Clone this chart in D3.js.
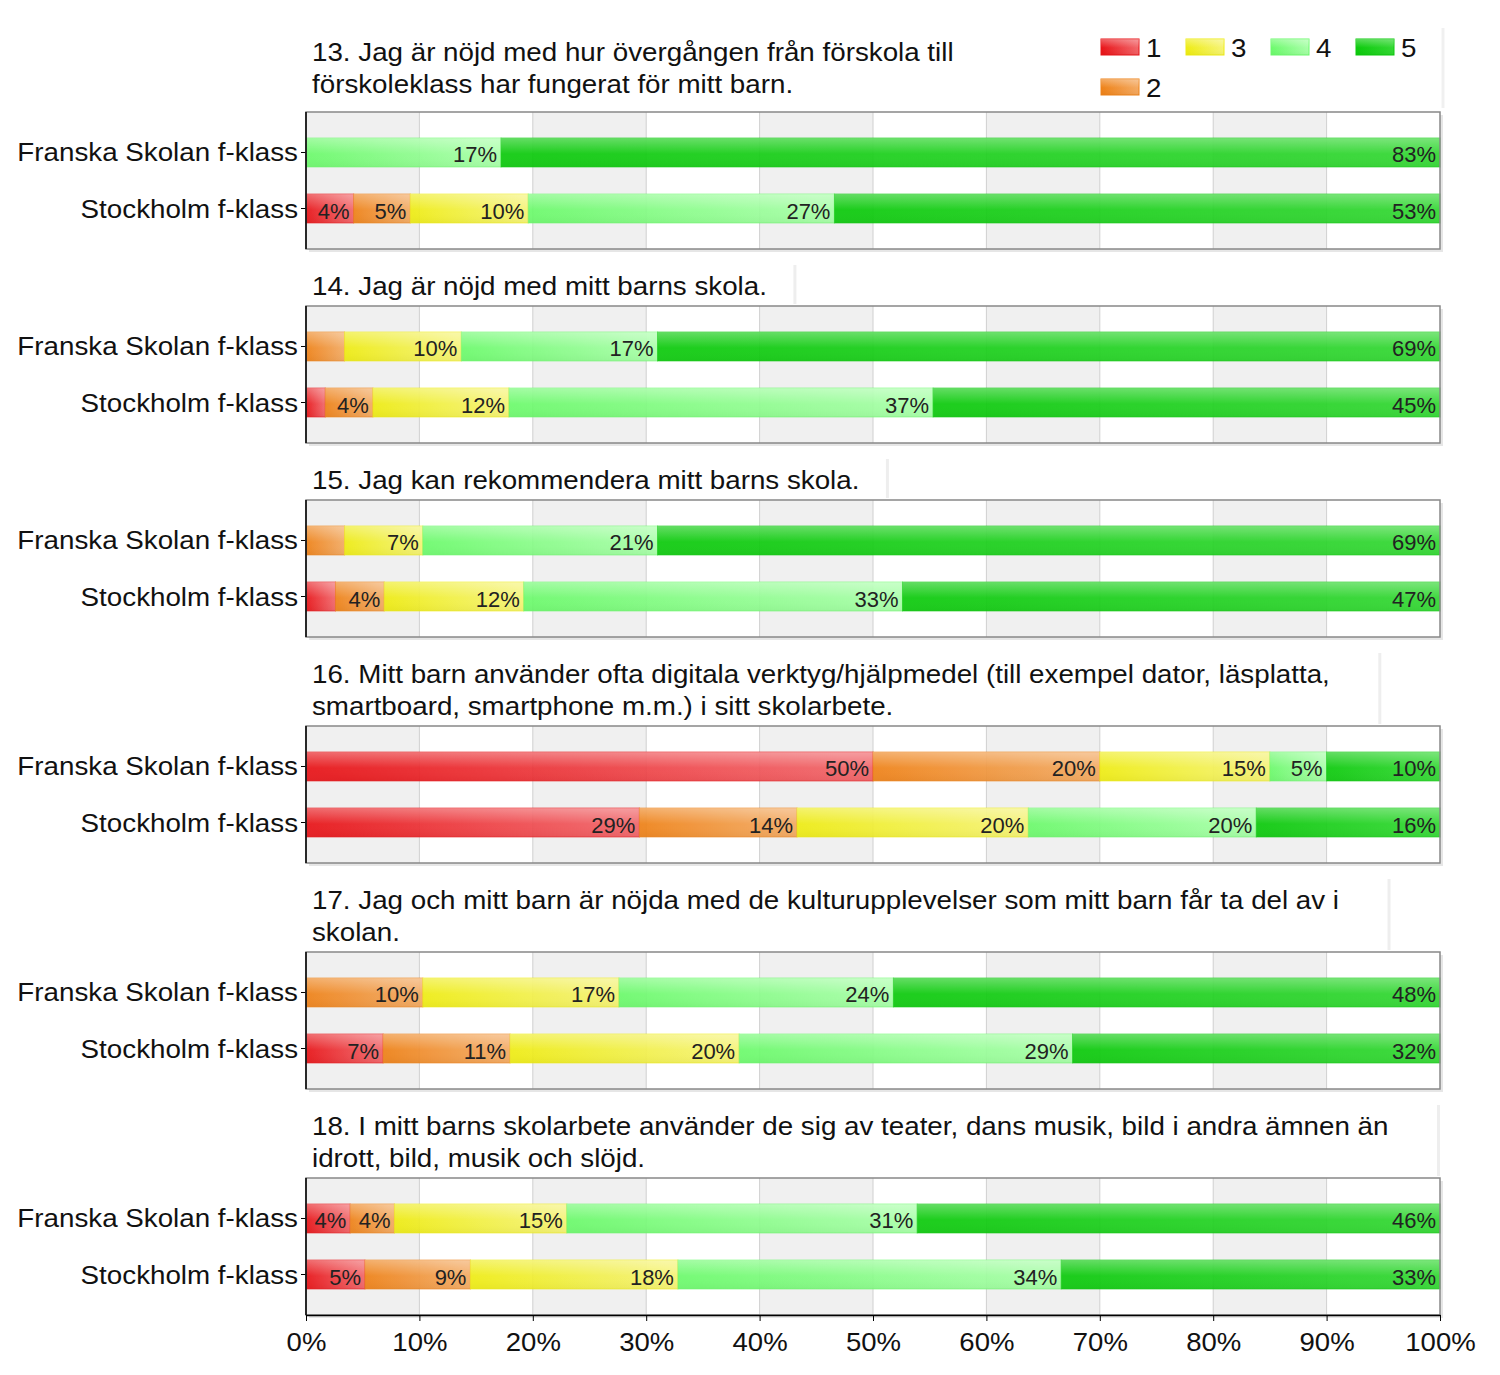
<!DOCTYPE html>
<html><head><meta charset="utf-8">
<script src="https://cdn.jsdelivr.net/npm/d3@7"></script>
<style>body{margin:0;background:#fff}svg{font-family:"Liberation Sans",Arial,sans-serif}</style>
</head><body><svg id="c" width="1500" height="1375"></svg>
<script>
const categories = ["Franska Skolan f-klass", "Stockholm f-klass"];
const levels = ["1", "2", "3", "4", "5"];
const legendOrder = ["1", "3", "4", "5", "2"];
const questions = [
  ["13. Jag är nöjd med hur övergången från förskola till", "förskoleklass har fungerat för mitt barn."],
  ["14. Jag är nöjd med mitt barns skola."],
  ["15. Jag kan rekommendera mitt barns skola."],
  ["16. Mitt barn använder ofta digitala verktyg/hjälpmedel (till exempel dator, läsplatta,", "smartboard, smartphone m.m.) i sitt skolarbete."],
  ["17. Jag och mitt barn är nöjda med de kulturupplevelser som mitt barn får ta del av i", "skolan."],
  ["18. I mitt barns skolarbete använder de sig av teater, dans musik, bild i andra ämnen än", "idrott, bild, musik och slöjd."]
];
const franska = [
  [0, 0, 0, 17.2, 82.8],
  [0, 3.4, 10.3, 17.3, 69],
  [0, 3.4, 6.9, 20.7, 69],
  [50, 20, 15, 5, 10],
  [0, 10.3, 17.3, 24.2, 48.2],
  [3.9, 3.9, 15.2, 30.9, 46.1]
];
const stockholm = [
  [4.2, 5.0, 10.4, 27, 53.4],
  [1.7, 4.2, 12, 37.4, 44.7],
  [2.6, 4.3, 12.3, 33.4, 47.4],
  [29.4, 13.9, 20.4, 20.1, 16.2],
  [6.8, 11.2, 20.2, 29.4, 32.4],
  [5.2, 9.3, 18.3, 33.8, 33.4]
];
const xTicks = [0, 10, 20, 30, 40, 50, 60, 70, 80, 90, 100];

const baseColors = {"1": "#e81418", "2": "#ee8218", "3": "#eeec14", "4": "#6cfa6c", "5": "#0cca0c"};
const lightColors = {"1": "#f26a6e", "2": "#f4ac66", "3": "#f6f47a", "4": "#acffac", "5": "#34d834"};
const SX = 1.068;

const svg = d3.select("#c");
const defs = svg.append("defs");
levels.forEach(l => {
  const g = defs.append("linearGradient").attr("id", "g" + l).attr("x1", 0).attr("y1", 0.6).attr("x2", 1).attr("y2", 0.4);
  g.append("stop").attr("offset", 0).attr("stop-color", baseColors[l]);
  g.append("stop").attr("offset", 1).attr("stop-color", lightColors[l]);
});
const gl = defs.append("linearGradient").attr("id", "gloss").attr("x1", 0).attr("y1", 0).attr("x2", 0).attr("y2", 1);
gl.append("stop").attr("offset", 0).attr("stop-color", "#fff").attr("stop-opacity", 0.3);
gl.append("stop").attr("offset", 0.4).attr("stop-color", "#fff").attr("stop-opacity", 0.08);
gl.append("stop").attr("offset", 0.55).attr("stop-color", "#fff").attr("stop-opacity", 0);
gl.append("stop").attr("offset", 1).attr("stop-color", "#000").attr("stop-opacity", 0.03);

const left = 306, right = 1440, boxH = 137;
const x = d3.scaleLinear().domain([0, 100]).range([left, right]);
const y = d3.scaleBand().domain(categories).range([0, boxH]).paddingInner(0.482).paddingOuter(0.464);

function stretchedText(parent, tx, ty, size, anchor) {
  return parent.append("text").attr("transform", `translate(${tx},${ty}) scale(${SX},1)`)
    .attr("font-size", size).attr("text-anchor", anchor).attr("fill", "#111");
}

// legend
const legG = svg.append("g");
legendOrder.forEach((l, i) => {
  const col = i % 4, row = Math.floor(i / 4);
  const lx = 1101 + col * 85, ly = 39 + row * 40;
  legG.append("rect").attr("x", lx).attr("y", ly).attr("width", 38).attr("height", 16)
    .attr("fill", "url(#g" + l + ")").attr("stroke", baseColors[l]).attr("stroke-width", 1);
  legG.append("rect").attr("x", lx).attr("y", ly).attr("width", 38).attr("height", 16).attr("fill", "url(#gloss)");
  stretchedText(legG, lx + 45, ly + 18, 26, "start").text(l);
});
svg.append("line").attr("x1", 1443).attr("x2", 1443).attr("y1", 28).attr("y2", 108).attr("stroke", "#f0f0f0").attr("stroke-width", 3);

let boxTop = 112;
let prevBottom = null;
questions.forEach((lines, qi) => {
  let firstBase;
  if (qi === 0) { firstBase = 61; boxTop = 112; }
  else {
    boxTop = prevBottom + 44 + 32 * (lines.length - 1) + 13;
    firstBase = prevBottom + 46;
  }
  const g = svg.append("g");
  // title
  const t = stretchedText(g, 312, 0, 26, "start");
  lines.forEach((ln, li) => {
    t.append("tspan").attr("x", 0).attr("y", firstBase + li * 32).text(ln);
  });
  if (qi > 0) {
    const w = t.node().getBBox().width * SX;
    const ex = Math.min(1443, 312 + w + (lines.length > 1 ? 50 : 28));
    g.append("line").attr("x1", ex).attr("x2", ex).attr("y1", firstBase - 30).attr("y2", boxTop - 2)
      .attr("stroke", "#eeeeee").attr("stroke-width", 3);
  }
  // shadow
  g.append("rect").attr("x", left + 3).attr("y", boxTop + 3).attr("width", right - left).attr("height", boxH)
    .attr("fill", "#e6e6e6");
  g.append("rect").attr("x", left).attr("y", boxTop).attr("width", right - left).attr("height", boxH).attr("fill", "#fff");
  // bands
  for (let k = 0; k < 10; k += 2) {
    g.append("rect").attr("x", x(k * 10)).attr("y", boxTop).attr("width", x(10) - x(0)).attr("height", boxH).attr("fill", "#f0f0f0");
  }
  // grid lines
  g.selectAll(".gl").data(xTicks.slice(1, -1)).enter().append("line")
    .attr("x1", d => x(d)).attr("x2", d => x(d)).attr("y1", boxTop).attr("y2", boxTop + boxH)
    .attr("stroke", "#d0d0d0").attr("stroke-width", 1);
  // bars
  const rows = [franska[qi], stockholm[qi]];
  rows.forEach((vals, ri) => {
    const cat = categories[ri];
    let cum = 0;
    const segs = vals.map((v, li) => { const s = {l: levels[li], v, x0: cum, x1: cum + v}; cum += v; return s; });
    const by = boxTop + y(cat), bh = y.bandwidth();
    segs.filter(s => s.v > 0).forEach(s => {
      const sx = x(s.x0), sw = x(s.x1) - x(s.x0);
      g.append("rect").attr("x", sx).attr("y", by).attr("width", sw).attr("height", bh)
        .attr("fill", "url(#g" + s.l + ")").attr("opacity", 0.93)
        .attr("stroke", baseColors[s.l]).attr("stroke-opacity", 0.6).attr("stroke-width", 1);
      g.append("rect").attr("x", sx).attr("y", by).attr("width", sw).attr("height", bh).attr("fill", "url(#gloss)");
      if (sw > 40) {
        g.append("text").attr("x", sx + sw - 4).attr("y", by + bh / 2 + 10).attr("text-anchor", "end")
          .attr("font-size", 22).attr("fill", "#222").text(Math.round(s.v) + "%");
      }
    });
    // y tick + label
    g.append("line").attr("x1", left - 5).attr("x2", left).attr("y1", by + bh / 2).attr("y2", by + bh / 2).attr("stroke", "#000");
    stretchedText(g, 298, by + bh / 2 + 9, 26, "end").text(cat);
  });
  // frame
  g.append("rect").attr("x", left).attr("y", boxTop).attr("width", right - left).attr("height", boxH)
    .attr("fill", "none").attr("stroke", "#888").attr("stroke-width", 1.5);
  g.append("line").attr("x1", left).attr("x2", left).attr("y1", boxTop).attr("y2", boxTop + boxH).attr("stroke", "#000").attr("stroke-width", 1.5);
  prevBottom = boxTop + boxH;
});

// bottom axis
const axis = d3.axisBottom(x).tickValues(xTicks).tickFormat(d => d + "%").tickSizeInner(6).tickSizeOuter(0);
const ax = svg.append("g").attr("transform", `translate(0,${prevBottom})`).call(axis);
ax.select(".domain").attr("stroke", "#000").attr("stroke-width", 1.5);
ax.selectAll(".tick line").attr("stroke", "#000");
ax.selectAll(".tick text").attr("font-size", 26).attr("fill", "#111").attr("y", 0).attr("dy", 0)
  .attr("transform", `translate(0,36) scale(1.06,1)`)
  .style("font-family", "'Liberation Sans', Arial, sans-serif");
</script></body></html>
